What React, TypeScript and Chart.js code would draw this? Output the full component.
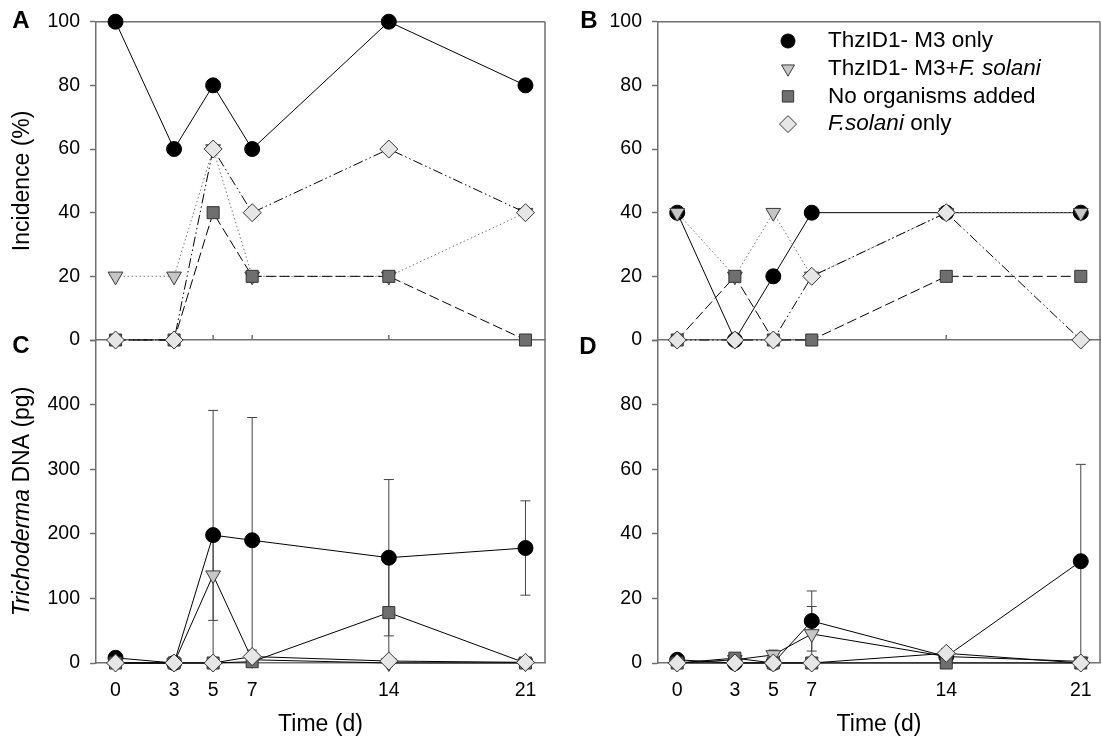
import React, { useEffect, useRef } from "react";
import { Chart, registerables } from "chart.js";
Chart.register(...registerables);

const FONT = '"Liberation Sans", Arial, Helvetica, sans-serif';
const AXIS = "#707070";
const CW = 1110;
const CH = 738;

// ---- data ----
const days = [0, 3, 5, 7, 14, 21];
const xTickValues = [0, 3, 5, 7, 14, 21];
const incidenceTicks = [0, 20, 40, 60, 80, 100];
const dnaTicksC = [0, 100, 200, 300, 400, 500];
const dnaTicksD = [0, 20, 40, 60, 80, 100];

// Panel A – incidence (%)
const aM3 = [100, 60, 80, 60, 100, 80];
const aM3Fs = [20, 20, 60, 20, 20, 40];
const aNone = [0, 0, 40, 20, 20, 0];
const aFs = [0, 0, 60, 40, 60, 40];

// Panel B – incidence (%)
const bM3 = [40, 0, 20, 40, 40, 40];
const bM3Fs = [40, 20, 40, 20, 40, 40];
const bNone = [0, 20, 0, 0, 20, 20];
const bFs = [0, 0, 0, 20, 40, 0];

// Panel C – Trichoderma DNA (pg)
const cM3 = [8, 0, 198, 190, 163, 178];
const cM3Err = [0, 0, 193, 190, 121, 73];
const cM3Fs = [0, 0, 136, 5, 0, 0];
const cM3FsErr = [0, 0, 70, 0, 0, 0];
const cNone = [0, 0, 0, 2, 78, 0];
const cNoneErr = [0, 0, 0, 0, 78, 0];
const cFs = [0, 0, 0, 10, 3, 1];
const cFsErr = [0, 0, 0, 10, 0, 0];

// Panel D – Trichoderma DNA (pg)
const dM3 = [1, 0, 0, 13, 2, 31.5];
const dM3Err = [0.5, 0, 0, 9.3, 1, 30];
const dM3Fs = [0, 1, 2.5, 9, 2, 0.5];
const dM3FsErr = [0, 0, 1.5, 8.5, 0, 0];
const dNone = [0, 1.5, 0, 0, 0, 0];
const dNoneErr = [0, 0, 0, 0, 0, 0];
const dFs = [0, 0, 0, 0, 3, 0];
const dFsErr = [0, 0, 0, 0, 1.5, 0];

type Seg = { t: string; i?: boolean };
const legendLabels: Seg[][] = [
  [{ t: "ThzID1- M3 only" }],
  [{ t: "ThzID1- M3+" }, { t: "F. solani", i: true }],
  [{ t: "No organisms added" }],
  [{ t: "F.solani", i: true }, { t: " only" }],
];

// ---- styles ----
const markers = [
  { pointStyle: "circle", radius: 7.5, rotation: 0, bg: "#000000", border: "#000000" },
  { pointStyle: "triangle", radius: 8.5, rotation: 180, bg: "#c6c6c6", border: "#3a3a3a" },
  { pointStyle: "rect", radius: 8.5, rotation: 0, bg: "#6f6f6f", border: "#333333" },
  { pointStyle: "rectRot", radius: 9, rotation: 0, bg: "#e6e6e6", border: "#333333" },
];
const incidenceLines = [
  { color: "#000000", dash: [] as number[] },
  { color: "#777777", dash: [1.5, 2.5] },
  { color: "#000000", dash: [10, 4] },
  { color: "#000000", dash: [10, 3, 1.5, 3, 1.5, 3] },
];
const drawOrder = [4, 3, 2, 1];

function drawRich(ctx: CanvasRenderingContext2D, segs: Seg[], x: number, y: number, size: number, align: string, bold = false) {
  const fontOf = (s: Seg) => `${s.i ? "italic " : ""}${bold ? "bold " : ""}${size}px ${FONT}`;
  const widths = segs.map((s) => {
    ctx.font = fontOf(s);
    return ctx.measureText(s.t).width;
  });
  const total = widths.reduce((a, b) => a + b, 0);
  let cx = align === "center" ? x - total / 2 : x;
  ctx.textAlign = "left";
  ctx.textBaseline = "middle";
  ctx.fillStyle = "#000";
  segs.forEach((s, k) => {
    ctx.font = fontOf(s);
    ctx.fillText(s.t, cx, y);
    cx += widths[k];
  });
}

function drawMarker(ctx: CanvasRenderingContext2D, k: number, x: number, y: number, r: number) {
  const m = markers[k];
  ctx.save();
  ctx.fillStyle = m.bg;
  ctx.strokeStyle = m.border;
  ctx.lineWidth = 1;
  ctx.beginPath();
  if (k === 0) {
    ctx.arc(x, y, r, 0, Math.PI * 2);
  } else if (k === 1) {
    ctx.moveTo(x - r * 0.866, y - r * 0.5);
    ctx.lineTo(x + r * 0.866, y - r * 0.5);
    ctx.lineTo(x, y + r);
    ctx.closePath();
  } else if (k === 2) {
    const h = r * Math.SQRT1_2;
    ctx.rect(x - h, y - h, 2 * h, 2 * h);
  } else {
    ctx.moveTo(x, y - r);
    ctx.lineTo(x + r, y);
    ctx.lineTo(x, y + r);
    ctx.lineTo(x - r, y);
    ctx.closePath();
  }
  ctx.fill();
  ctx.stroke();
  ctx.restore();
}

const decorPlugin = {
  id: "decor",
  beforeDatasetsDraw(chart: any, _args: any, opts: any) {
    const { ctx, chartArea: a, scales } = chart;
    ctx.save();
    ctx.strokeStyle = AXIS;
    ctx.lineWidth = 1.5;
    ctx.beginPath();
    if (opts.frameTop) {
      ctx.moveTo(a.left, a.top);
      ctx.lineTo(a.right, a.top);
    }
    if (opts.frameRight) {
      ctx.moveTo(a.right, a.top);
      ctx.lineTo(a.right, a.bottom);
    }
    xTickValues.forEach((v) => {
      const px = scales.x.getPixelForValue(v);
      ctx.moveTo(px, a.bottom);
      ctx.lineTo(px, a.bottom - 5);
    });
    ctx.stroke();

    // error bars
    ctx.strokeStyle = "#444444";
    ctx.lineWidth = 1;
    chart.data.datasets.forEach((ds: any) => {
      if (!ds.errors) return;
      ds.data.forEach((p: any, k: number) => {
        const e = ds.errors[k];
        if (!e) return;
        const px = scales.x.getPixelForValue(p.x);
        const hi = scales.y.getPixelForValue(p.y + e);
        const loVal = p.y - e;
        const lo = scales.y.getPixelForValue(Math.max(loVal, 0));
        ctx.beginPath();
        ctx.moveTo(px, hi);
        ctx.lineTo(px, lo);
        ctx.moveTo(px - 5, hi);
        ctx.lineTo(px + 5, hi);
        if (loVal > 0) {
          ctx.moveTo(px - 5, lo);
          ctx.lineTo(px + 5, lo);
        }
        ctx.stroke();
      });
    });
    ctx.restore();
  },
  afterDraw(chart: any, _args: any, opts: any) {
    const { ctx, chartArea: a } = chart;
    ctx.save();
    if (opts.letter) {
      drawRich(ctx, [{ t: opts.letter }], opts.letterX, opts.letterY, 24, "center", true);
    }
    if (opts.yTitle) {
      ctx.save();
      ctx.translate(23, (a.top + a.bottom) / 2);
      ctx.rotate(-Math.PI / 2);
      drawRich(ctx, opts.yTitle, 0, 0, 23, "center");
      ctx.restore();
    }
    if (opts.xTitle) {
      drawRich(ctx, opts.xTitle, (a.left + a.right) / 2, 725, 23, "center");
    }
    if (opts.legend) {
      const lx = 788;
      const ly = 41;
      const dy = 27.7;
      const rs = [7, 7.5, 8, 8.5];
      legendLabels.forEach((segs, k) => {
        drawMarker(ctx, k, lx, ly + k * dy, rs[k]);
        drawRich(ctx, segs, 828, ly + k * dy, 22.5, "left");
      });
    }
    ctx.restore();
  },
};

type PanelDef = {
  series: number[][];
  errors: number[][] | null;
  incidence: boolean;
  yMax: number;
  yTicks: number[];
  hideTop: boolean;
  showX: boolean;
  left: number;
  right: number;
  top: number;
  bottom: number;
  decor: any;
};

function buildConfig(p: PanelDef): any {
  const yWidth = 60;
  const xHeight = p.showX ? 70 : 0;
  const datasets = p.series.map((vals, k) => {
    const m = markers[k];
    const ln = p.incidence ? incidenceLines[k] : { color: "#000000", dash: [] as number[] };
    return {
      data: days.map((d, i) => ({ x: d, y: vals[i] })),
      errors: p.errors ? p.errors[k] : null,
      order: drawOrder[k],
      borderColor: ln.color,
      borderWidth: 1,
      borderDash: ln.dash,
      pointStyle: m.pointStyle,
      pointRadius: m.radius,
      pointRotation: m.rotation,
      pointBackgroundColor: m.bg,
      pointBorderColor: m.border,
      pointBorderWidth: 1,
      fill: false,
      tension: 0,
      clip: false,
    };
  });
  return {
    type: "line",
    data: { datasets },
    options: {
      animation: false,
      responsive: false,
      maintainAspectRatio: false,
      events: [],
      layout: {
        padding: {
          left: p.left - yWidth,
          right: CW - p.right,
          top: p.top,
          bottom: CH - p.bottom - xHeight,
        },
      },
      plugins: {
        legend: { display: false },
        tooltip: { enabled: false },
        decor: p.decor,
      },
      scales: {
        x: {
          type: "linear",
          min: -1,
          max: 22,
          afterBuildTicks: (s: any) => {
            s.ticks = xTickValues.map((v) => ({ value: v }));
          },
          afterFit: (s: any) => {
            s.height = xHeight;
          },
          grid: { display: false },
          border: { display: true, color: AXIS, width: 1.5 },
          ticks: {
            display: p.showX,
            autoSkip: false,
            maxRotation: 0,
            padding: 8,
            color: "#000",
            font: { family: FONT, size: 19.5 },
          },
        },
        y: {
          type: "linear",
          min: 0,
          max: p.yMax,
          afterBuildTicks: (s: any) => {
            s.ticks = p.yTicks.map((v) => ({ value: v }));
          },
          afterFit: (s: any) => {
            s.width = yWidth;
          },
          grid: {
            display: true,
            drawOnChartArea: false,
            drawTicks: true,
            tickLength: 6,
            tickColor: AXIS,
            tickWidth: 1.5,
            color: AXIS,
          },
          border: { display: true, color: AXIS, width: 1.5 },
          ticks: {
            padding: 10,
            color: "#000",
            font: { family: FONT, size: 19.5 },
            callback: (v: any) => (p.hideTop && v === p.yMax ? "" : String(v)),
          },
        },
      },
    },
    plugins: [decorPlugin],
  };
}

const timeTitle: Seg[] = [{ t: "Time (d)" }];
const incTitle: Seg[] = [{ t: "Incidence (%)" }];
const dnaTitle: Seg[] = [{ t: "Trichoderma", i: true }, { t: " DNA (pg)" }];

const panels: PanelDef[] = [
  {
    series: [aM3, aM3Fs, aNone, aFs],
    errors: null,
    incidence: true,
    yMax: 100,
    yTicks: incidenceTicks,
    hideTop: false,
    showX: false,
    left: 96,
    right: 545,
    top: 16.5,
    bottom: 340,
    decor: { frameTop: true, frameRight: true, letter: "A", letterX: 21, letterY: 21, yTitle: incTitle },
  },
  {
    series: [bM3, bM3Fs, bNone, bFs],
    errors: null,
    incidence: true,
    yMax: 100,
    yTicks: incidenceTicks,
    hideTop: false,
    showX: false,
    left: 658,
    right: 1107,
    top: 16.5,
    bottom: 340,
    decor: { frameTop: true, frameRight: true, letter: "B", letterX: 589, letterY: 21, legend: true },
  },
  {
    series: [cM3, cM3Fs, cNone, cFs],
    errors: [cM3Err, cM3FsErr, cNoneErr, cFsErr],
    incidence: false,
    yMax: 500,
    yTicks: dnaTicksC,
    hideTop: true,
    showX: true,
    left: 96,
    right: 545,
    top: 340,
    bottom: 663,
    decor: { frameTop: false, frameRight: true, letter: "C", letterX: 21, letterY: 346, yTitle: dnaTitle, xTitle: timeTitle },
  },
  {
    series: [dM3, dM3Fs, dNone, dFs],
    errors: [dM3Err, dM3FsErr, dNoneErr, dFsErr],
    incidence: false,
    yMax: 100,
    yTicks: dnaTicksD,
    hideTop: true,
    showX: true,
    left: 658,
    right: 1107,
    top: 340,
    bottom: 663,
    decor: { frameTop: false, frameRight: true, letter: "D", letterX: 588, letterY: 347, xTitle: timeTitle },
  },
];

function Panel({ def }: { def: PanelDef }) {
  const ref = useRef<HTMLCanvasElement | null>(null);
  useEffect(() => {
    if (!ref.current) return;
    const chart = new Chart(ref.current, buildConfig(def));
    return () => chart.destroy();
  }, [def]);
  return (
    <canvas
      ref={ref}
      width={CW}
      height={CH}
      style={{ position: "absolute", left: 0, top: 0, width: CW, height: CH }}
    />
  );
}

export default function App() {
  return (
    <div
      style={{
        position: "absolute",
        left: 0,
        top: 0,
        width: 1102,
        height: 738,
        overflow: "hidden",
        background: "#ffffff",
      }}
    >
      {panels.map((p, i) => (
        <Panel key={i} def={p} />
      ))}
    </div>
  );
}
